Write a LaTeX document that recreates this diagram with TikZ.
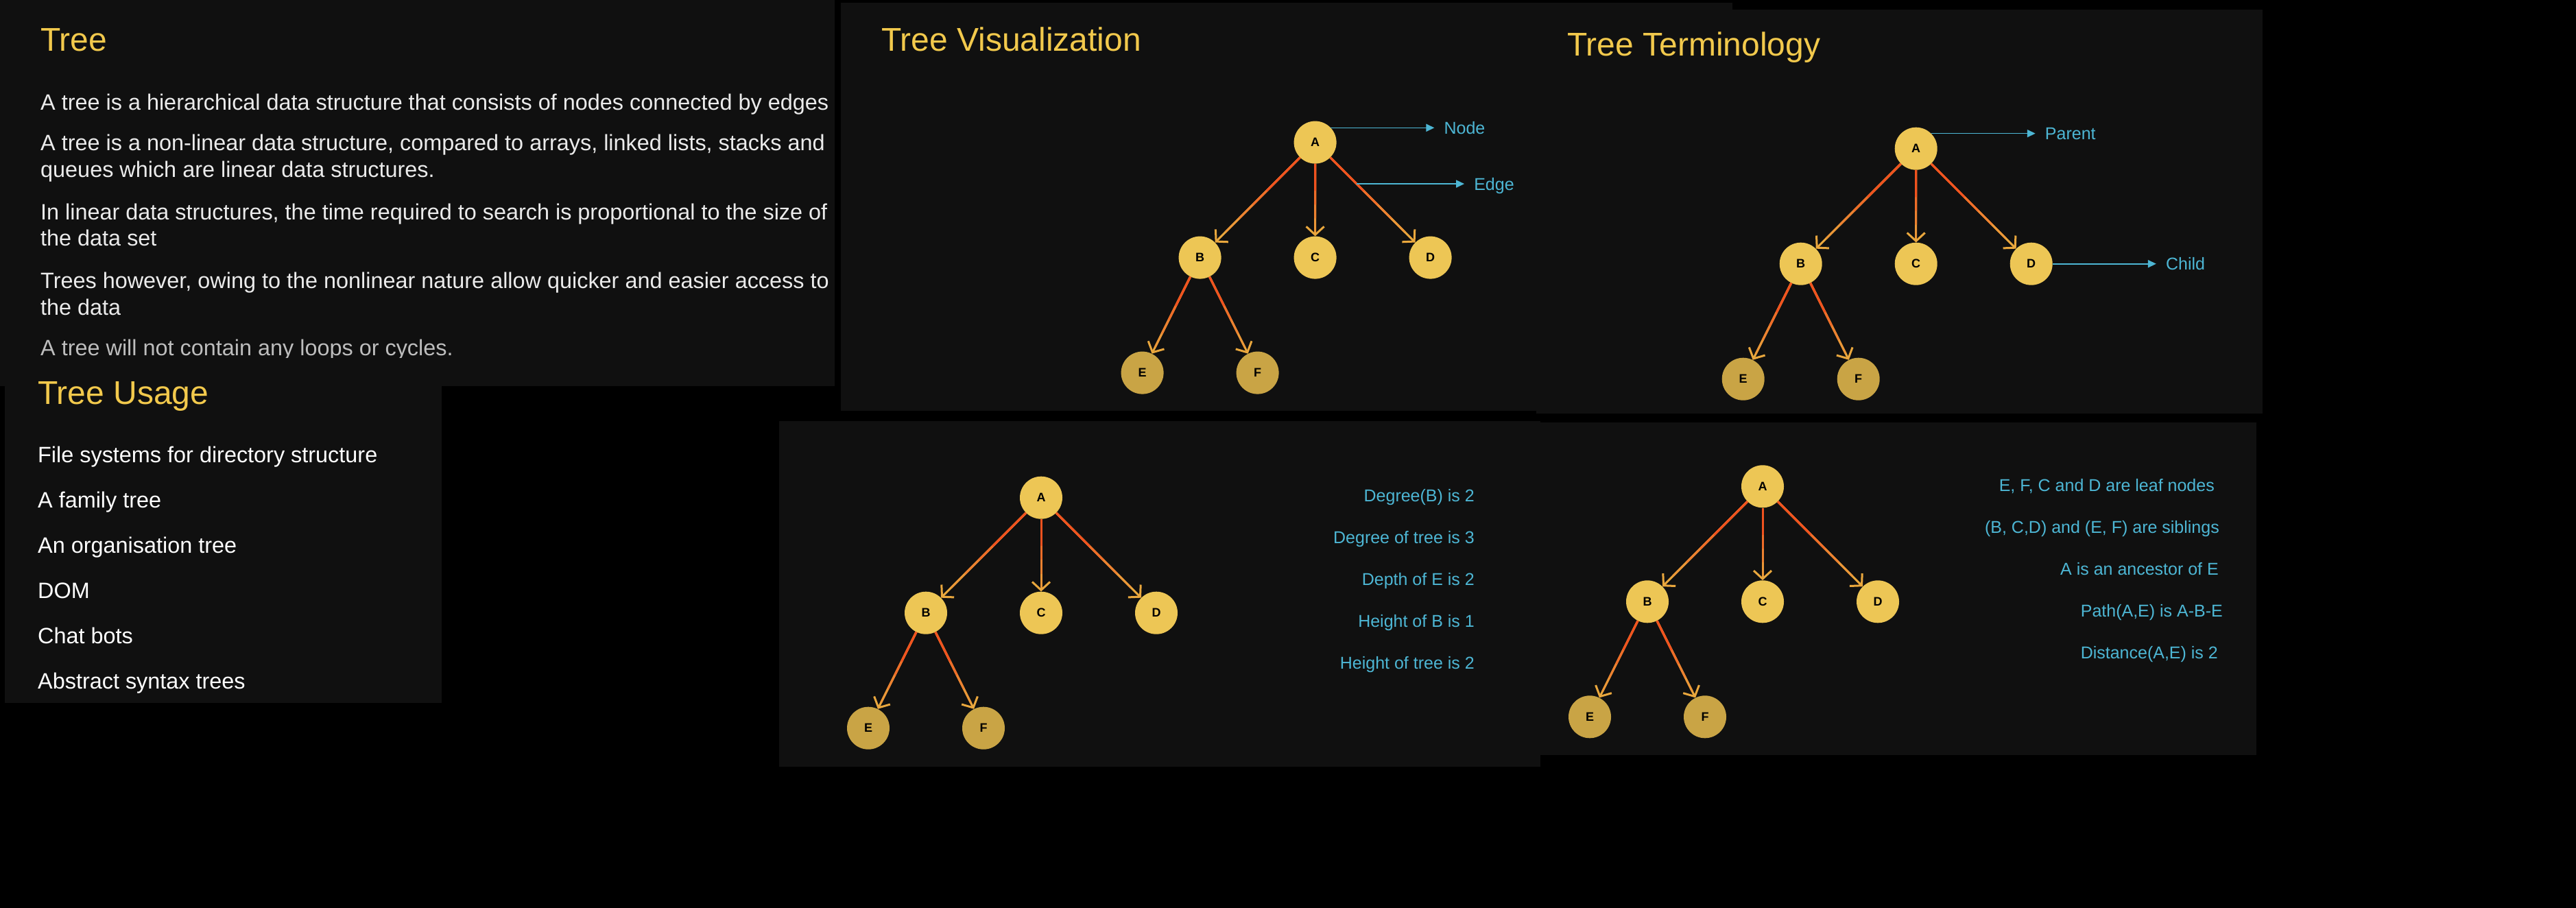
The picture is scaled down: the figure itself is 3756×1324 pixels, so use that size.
\documentclass[tikz,border=0pt]{standalone}
\usepackage{fontspec}
\setmainfont{Liberation Sans}
\usetikzlibrary{arrows.meta,calc}

\definecolor{panelbg}{HTML}{101010}
\definecolor{titlegold}{HTML}{F2C94C}
\definecolor{bodytext}{HTML}{EBEBEB}
\definecolor{fadetext}{HTML}{BDBDBD}
\definecolor{notecyan}{HTML}{4DB6D4}
\definecolor{nodeyellow}{HTML}{EDC655}
\definecolor{leafgold}{HTML}{C9A445}
\definecolor{linkhot}{HTML}{F0521F}
\definecolor{linkwarm}{HTML}{E9A73D}

\tikzset{
  panel/.style={fill=panelbg},
  paneltitle/.style={anchor=base west, inner sep=0pt, text=titlegold, font=\fontsize{48}{58}\selectfont},
  bodyline/.style={anchor=base west, inner sep=0pt, text=bodytext, font=\fontsize{32.4}{39}\selectfont},
  noteline/.style={anchor=base east, inner sep=0pt, text=notecyan, font=\fontsize{25}{30}\selectfont},
  treenode/.style={circle, fill=nodeyellow, minimum size=62pt, inner sep=0pt, font=\fontsize{18}{20}\bfseries\selectfont},
  leafnode/.style={treenode, fill=leafgold},
  linkline/.style={draw=linkwarm, line width=3pt, -{Straight Barb[length=12pt,width=26pt]}},
  linkpart/.style={line width=3pt},
  pointer/.style={draw=notecyan, line width=1.6pt, -{Triangle[length=12pt,width=11pt]}},
  pointlabel/.style={anchor=west, inner xsep=14pt, inner ysep=0pt, text depth=0pt, text=notecyan, font=\fontsize{25}{30}\selectfont},
}

% one edge, orange at the parent and amber at the child
\newcommand{\treelink}[2]{%
  \draw[linkline] (#1) -- (#2);
  \foreach \f/\p in {0.78/20,0.66/45,0.54/70,0.42/100}
    \draw[linkpart, draw=linkhot!\p!linkwarm] (#1) -- ($(#1)!\f!(#2)$);
}

% the sample tree A-F, #1 name prefix, root at (#2,#3)
\newcommand{\sampletree}[3]{%
  \node[treenode] (#1A) at (#2,#3) {A};
  \node[treenode] (#1B) at ($(#1A)+(-168,168)$) {B};
  \node[treenode] (#1C) at ($(#1A)+(0,168)$) {C};
  \node[treenode] (#1D) at ($(#1A)+(168,168)$) {D};
  \node[leafnode] (#1E) at ($(#1B)+(-84,168)$) {E};
  \node[leafnode] (#1F) at ($(#1B)+(84,168)$) {F};
  \foreach \from/\to in {A/B,A/C,A/D,B/E,B/F}
    \treelink{#1\from}{#1\to};
}

\begin{document}
\begin{tikzpicture}[x=1pt,y=-1pt]
  \useasboundingbox (0,0) rectangle (3756,1324);
  \fill[black] (0,0) rectangle (3756,1324);

  % Tree
  \fill[panel] (0,0) rectangle (1217,563);
  \node[paneltitle] (treetitle) at (59,75) {Tree};
  \foreach \txt/\yy [count=\i] in {
      {A tree is a hierarchical data structure that consists of nodes connected by edges}/161,
      {A tree is a non-linear data structure, compared to arrays, linked lists, stacks and}/220,
      {queues which are linear data structures.}/259,
      {In linear data structures, the time required to search is proportional to the size of}/320,
      {the data set}/359,
      {Trees however, owing to the nonlinear nature allow quicker and easier access to}/420,
      {the data}/459}
    \node[bodyline] (about\i) at (59,\yy) {\txt};
  \node[bodyline, text=fadetext] (about8) at (59,518) {A tree will not contain any loops or cycles.};

  % Tree Usage
  \fill[panel] (7,522) rectangle (644,1025);
  \node[paneltitle] (usetitle) at (55,589) {Tree Usage};
  \foreach \txt [count=\i] in {File systems for directory structure, A family tree,
      An organisation tree, DOM, Chat bots, Abstract syntax trees}
    \node[bodyline, text=white] (use\i) at (55,{608+66*\i}) {\txt};

  % the other panels
  \fill[panel] (1226,4) rectangle (2526,599);
  \fill[panel] (2240,14) rectangle (3299,603);
  \fill[panel] (1136,614) rectangle (2246,1118);
  \fill[panel] (2245,616) rectangle (3290,1101);

  % Tree Visualization
  \node[paneltitle] (vistitle) at (1285,75) {Tree Visualization};
  \sampletree{v}{1917.6}{207.6}
  \node[pointlabel] (nodelbl) at ($(vA.43)+(151,0)$) {Node};
  \draw[pointer] (vA.43) -- (nodelbl.west);
  \coordinate (edgept) at ($(vA)!0.36!(vD)$);
  \node[pointlabel] (edgelbl) at ($(edgept)+(157,0)$) {Edge};
  \draw[pointer] (edgept) -- (edgelbl.west);

  % Tree Terminology
  \node[paneltitle] (termtitle) at (2285,82) {Tree Terminology};
  \sampletree{t}{2793.7}{216.7}
  \node[pointlabel] (parentlbl) at ($(tA.45)+(152,0)$) {Parent};
  \draw[pointer] (tA.45) -- (parentlbl.west);
  \node[pointlabel] (childlbl) at ($(tD.east)+(151,0)$) {Child};
  \draw[pointer] (tD.east) -- (childlbl.west);

  % degree and height
  \sampletree{d}{1518}{725.7}
  \foreach \txt [count=\i] in {Degree(B) is 2, Degree of tree is 3, Depth of E is 2,
      Height of B is 1, Height of tree is 2}
    \node[noteline] (deg\i) at (2150,{670+61*\i}) {\txt};

  % leaves, siblings, paths
  \sampletree{l}{2570}{709.3}
  \foreach \txt/\xx [count=\i] in {
      {E, F, C and D are leaf nodes}/3229,
      {(B, C,D) and (E, F) are siblings}/3236,
      {A is an ancestor of E}/3235,
      {Path(A,E) is A-B-E}/3241,
      {Distance(A,E) is 2}/3234}
    \node[noteline] (fact\i) at (\xx,{655+61*\i}) {\txt};
\end{tikzpicture}
\end{document}
